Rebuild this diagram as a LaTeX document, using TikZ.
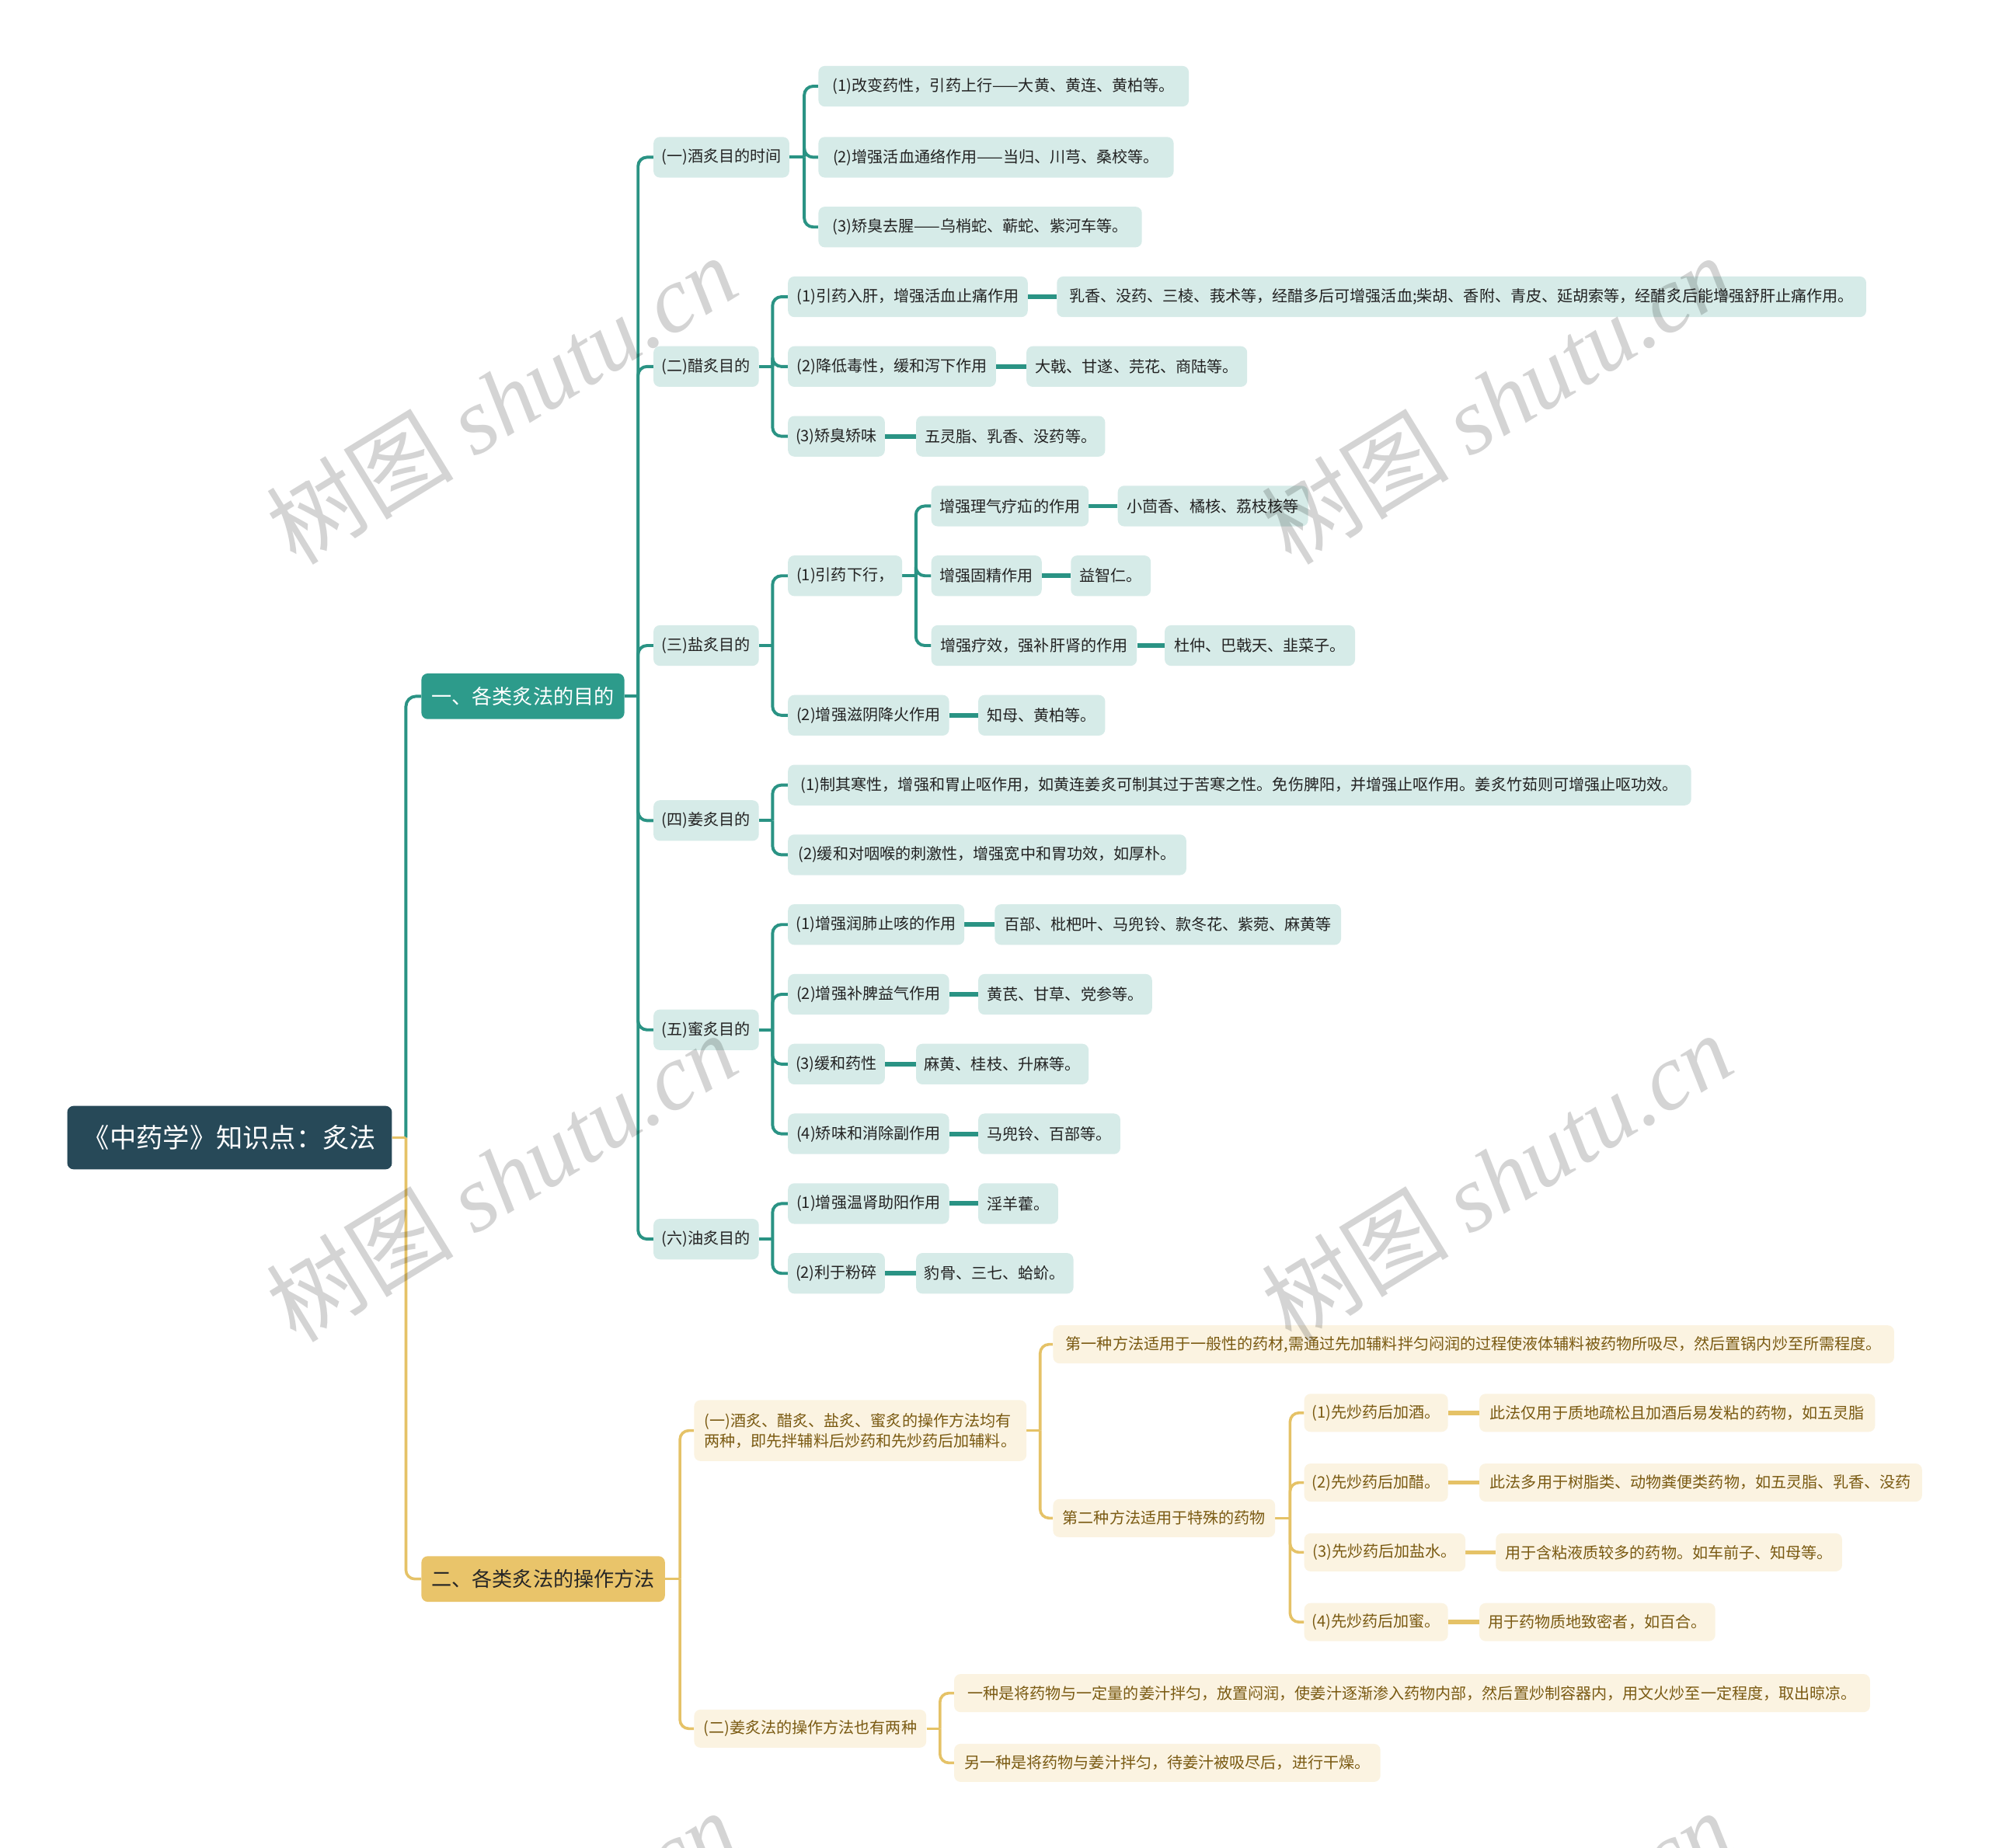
\documentclass[tikz,border=0pt]{standalone}
\usepackage{fontspec}
\setmainfont{Noto Sans CJK SC}
\newfontfamily\wmlat{Liberation Serif}
\usetikzlibrary{calc}
\definecolor{rootc}{HTML}{274958}
\definecolor{tealc}{HTML}{2D9B8B}
\definecolor{tline}{HTML}{2A9384}
\definecolor{tfill}{HTML}{D6EBE8}
\definecolor{yelc}{HTML}{E9C46A}
\definecolor{yline}{HTML}{E5C267}
\definecolor{yfill}{HTML}{FBF3E1}
\definecolor{ytext}{HTML}{7A5A12}
\definecolor{dtext}{HTML}{222222}
\pgfdeclarelayer{bg}
\pgfdeclarelayer{wm}
\pgfsetlayers{bg,main,wm}
\tikzset{
  rootbox/.style={fill=rootc,text=white,rounded corners=5pt,minimum width=256pt,minimum height=50pt,inner sep=0pt,font=\fontsize{21}{25}\selectfont},
  mainT/.style={fill=tealc,text=white,rounded corners=5pt,minimum height=36pt,inner xsep=6pt,inner ysep=0pt,anchor=west,font=\fontsize{16}{20}\selectfont},
  mainY/.style={fill=yelc,text=black!85,rounded corners=5pt,minimum height=36pt,inner xsep=6pt,inner ysep=0pt,anchor=west,font=\fontsize{16}{20}\selectfont},
  tn/.style={fill=tfill,text=dtext,rounded corners=5pt,minimum height=32pt,inner xsep=6pt,inner ysep=0pt,anchor=west,font=\fontsize{12.3}{16}\selectfont},
  yn/.style={fill=yfill,text=ytext,rounded corners=5pt,minimum height=30pt,inner xsep=6pt,inner ysep=0pt,anchor=west,font=\fontsize{12.3}{16}\selectfont},
  tl/.style={draw=tline,line width=2.4pt},
  yl/.style={draw=yline,line width=2.2pt},
  tlk/.style={draw=tline,line width=3.6pt},
  ylk/.style={draw=yline,line width=3.4pt},
  wmark/.style={text=black,opacity=0.17,rotate=31.5,inner sep=0pt},
}
\newcommand\brn[4]{%
  \draw[#4] (#1.east) -- (#1.east -| #2);
  \draw[#4,rounded corners=7pt] (#1.east -| #2) |- (#3.west);}
\begin{document}
\begin{tikzpicture}[x=1pt,y=-1pt]
\useasboundingbox (0,0) rectangle (1568,1457);
% trunk coordinates
\coordinate (tR) at (320,0);
\coordinate (tA) at (503,0);
\coordinate (tA1) at (634,0);
\coordinate (tAx) at (609,0);
\coordinate (tA31) at (722,0);
\coordinate (tB) at (536,0);
\coordinate (tB1) at (820,0);
\coordinate (tB12) at (1017,0);
\coordinate (tB2) at (741,0);

\node[rootbox] (R) at (181,897) {《中药学》知识点：炙法};
\node[mainT,minimum width=160pt] (A) at (332,549) {一、各类炙法的目的};
\node[mainY,minimum width=192pt] (B) at (332,1245) {二、各类炙法的操作方法};

% (一)
\node[tn,minimum width=107pt] (A1) at (515,124) {(一)酒炙目的时间};
\node[tn,minimum width=292pt] (A11) at (645,68) {(1)改变药性，引药上行——大黄、黄连、黄柏等。};
\node[tn,minimum width=280pt] (A12) at (645,124) {(2)增强活血通络作用——当归、川芎、桑校等。};
\node[tn,minimum width=255pt] (A13) at (645,179) {(3)矫臭去腥——乌梢蛇、蕲蛇、紫河车等。};
% (二)
\node[tn,minimum width=83pt] (A2) at (515,289) {(二)醋炙目的};
\node[tn,minimum width=189pt] (A21) at (621,234) {(1)引药入肝，增强活血止痛作用};
\node[tn,minimum width=638pt] (A21l) at (833,234) {乳香、没药、三棱、莪术等，经醋多后可增强活血;柴胡、香附、青皮、延胡索等，经醋炙后能增强舒肝止痛作用。};
\node[tn,minimum width=164pt] (A22) at (621,289) {(2)降低毒性，缓和泻下作用};
\node[tn,minimum width=174pt] (A22l) at (809,289) {大戟、甘遂、芫花、商陆等。};
\node[tn,minimum width=76pt] (A23) at (621,344) {(3)矫臭矫味};
\node[tn,minimum width=149pt] (A23l) at (722,344) {五灵脂、乳香、没药等。};
% (三)
\node[tn,minimum width=83pt] (A3) at (515,509) {(三)盐炙目的};
\node[tn,minimum width=90pt] (A31) at (621,454) {(1)引药下行，};
\node[tn,minimum width=124pt] (A311) at (734,399) {增强理气疗疝的作用};
\node[tn,minimum width=150pt] (A311l) at (881,399) {小茴香、橘核、荔枝核等};
\node[tn,minimum width=87pt] (A312) at (734,454) {增强固精作用};
\node[tn,minimum width=63pt] (A312l) at (844,454) {益智仁。};
\node[tn,minimum width=162pt] (A313) at (734,509) {增强疗效，强补肝肾的作用};
\node[tn,minimum width=150pt] (A313l) at (918,509) {杜仲、巴戟天、韭菜子。};
\node[tn,minimum width=127pt] (A32) at (621,564) {(2)增强滋阴降火作用};
\node[tn,minimum width=100pt] (A32l) at (771,564) {知母、黄柏等。};
% (四)
\node[tn,minimum width=83pt] (A4) at (515,647) {(四)姜炙目的};
\node[tn,minimum width=712pt] (A41) at (621,619) {(1)制其寒性，增强和胃止呕作用，如黄连姜炙可制其过于苦寒之性。免伤脾阳，并增强止呕作用。姜炙竹茹则可增强止呕功效。};
\node[tn,minimum width=314pt] (A42) at (621,674) {(2)缓和对咽喉的刺激性，增强宽中和胃功效，如厚朴。};
% (五)
\node[tn,minimum width=83pt] (A5) at (515,812) {(五)蜜炙目的};
\node[tn,minimum width=139pt] (A51) at (621,729) {(1)增强润肺止咳的作用};
\node[tn,minimum width=273pt] (A51l) at (784,729) {百部、枇杷叶、马兜铃、款冬花、紫菀、麻黄等};
\node[tn,minimum width=127pt] (A52) at (621,784) {(2)增强补脾益气作用};
\node[tn,minimum width=137pt] (A52l) at (771,784) {黄芪、甘草、党参等。};
\node[tn,minimum width=76pt] (A53) at (621,839) {(3)缓和药性};
\node[tn,minimum width=136pt] (A53l) at (722,839) {麻黄、桂枝、升麻等。};
\node[tn,minimum width=127pt] (A54) at (621,894) {(4)矫味和消除副作用};
\node[tn,minimum width=112pt] (A54l) at (771,894) {马兜铃、百部等。};
% (六)
\node[tn,minimum width=83pt] (A6) at (515,977) {(六)油炙目的};
\node[tn,minimum width=127pt] (A61) at (621,949) {(1)增强温肾助阳作用};
\node[tn,minimum width=63pt] (A61l) at (771,949) {淫羊藿。};
\node[tn,minimum width=76pt] (A62) at (621,1004) {(2)利于粉碎};
\node[tn,minimum width=124pt] (A62l) at (722,1004) {豹骨、三七、蛤蚧。};

% yellow side
\node[yn,minimum width=262pt,minimum height=48pt,align=left] (B1) at (547,1128) {(一)酒炙、醋炙、盐炙、蜜炙的操作方法均有\\两种，即先拌辅料后炒药和先炒药后加辅料。};
\node[yn,minimum width=663pt] (B11) at (830,1060) {第一种方法适用于一般性的药材,需通过先加辅料拌匀闷润的过程使液体辅料被药物所吸尽，然后置锅内炒至所需程度。};
\node[yn,minimum width=175pt] (B12) at (830,1197) {第二种方法适用于特殊的药物};
\node[yn,minimum width=113pt] (B121) at (1028,1114) {(1)先炒药后加酒。};
\node[yn,minimum width=312pt] (B121l) at (1166,1114) {此法仅用于质地疏松且加酒后易发粘的药物，如五灵脂};
\node[yn,minimum width=113pt] (B122) at (1028,1169) {(2)先炒药后加醋。};
\node[yn,minimum width=349pt] (B122l) at (1166,1169) {此法多用于树脂类、动物粪便类药物，如五灵脂、乳香、没药};
\node[yn,minimum width=127pt] (B123) at (1028,1224) {(3)先炒药后加盐水。};
\node[yn,minimum width=273pt] (B123l) at (1179,1224) {用于含粘液质较多的药物。如车前子、知母等。};
\node[yn,minimum width=113pt] (B124) at (1028,1279) {(4)先炒药后加蜜。};
\node[yn,minimum width=186pt] (B124l) at (1166,1279) {用于药物质地致密者，如百合。};
\node[yn,minimum width=183pt] (B2) at (547,1363) {(二)姜炙法的操作方法也有两种};
\node[yn,minimum width=722pt] (B21) at (752,1335) {一种是将药物与一定量的姜汁拌匀，放置闷润，使姜汁逐渐渗入药物内部，然后置炒制容器内，用文火炒至一定程度，取出晾凉。};
\node[yn,minimum width=336pt] (B22) at (752,1390) {另一种是将药物与姜汁拌匀，待姜汁被吸尽后，进行干燥。};

\begin{pgfonlayer}{bg}
\fill[white] (0,0) rectangle (1568,1457);
% root
\draw[tl,rounded corners=8pt] (R.east -| tR) |- (A.west);
\brn{R}{tR}{B}{yl}
% level 1 teal
\foreach \c in {A1,A2,A3,A4,A5,A6} {\brn{A}{tA}{\c}{tl}}
\foreach \c in {A11,A12,A13} {\brn{A1}{tA1}{\c}{tl}}
\foreach \c in {A21,A22,A23} {\brn{A2}{tAx}{\c}{tl}}
\foreach \c in {A31,A32} {\brn{A3}{tAx}{\c}{tl}}
\foreach \c in {A311,A312,A313} {\brn{A31}{tA31}{\c}{tl}}
\foreach \c in {A41,A42} {\brn{A4}{tAx}{\c}{tl}}
\foreach \c in {A51,A52,A53,A54} {\brn{A5}{tAx}{\c}{tl}}
\foreach \c in {A61,A62} {\brn{A6}{tAx}{\c}{tl}}
\foreach \a in {A21,A22,A23,A311,A312,A313,A32,A51,A52,A53,A54,A61,A62} {\draw[tlk] (\a.east) -- (\a l.west);}
% yellow
\foreach \c in {B1,B2} {\brn{B}{tB}{\c}{yl}}
\foreach \c in {B11,B12} {\brn{B1}{tB1}{\c}{yl}}
\foreach \c in {B121,B122,B123,B124} {\brn{B12}{tB12}{\c}{yl}}
\foreach \c in {B21,B22} {\brn{B2}{tB2}{\c}{yl}}
\foreach \a in {B121,B122,B123,B124} {\draw[ylk] (\a.east) -- (\a l.west);}
\end{pgfonlayer}

\begin{pgfonlayer}{wm}
\foreach \p [count=\i] in {(395,315),(1180,315),(395,928),(1180,928),(395,1541),(1180,1541)} {
  \node[wmark,font=\fontsize{74}{80}\selectfont] (W\i) at \p {树图 {\wmlat\itshape shutu.cn}};
}
\end{pgfonlayer}
\end{tikzpicture}
\end{document}
